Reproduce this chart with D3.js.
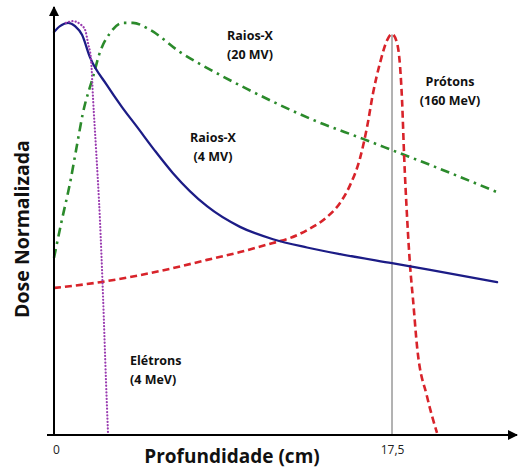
<!DOCTYPE html>
<html lang="pt">
<head>
<meta charset="UTF-8">
<title>Dose x Profundidade</title>
<script src="https://cdn.jsdelivr.net/npm/d3@7"></script>
<style>
    body { margin: 0; background: #fff; }
    svg { display: block; }
    .lbl { font-family: "Open Sans", sans-serif; font-weight: 700; fill: #111; }
</style>
</head>
<body>
<div id="chart"></div>
<script>
    // profundidade (cm) / dose normalizada (%)
    const xRaios4 = [0, 0.31, 0.73, 1.09, 1.45, 1.86, 2.74, 3.52, 4.3, 5.23, 6.16, 7.92, 9.63, 11.34, 13.1, 14.81, 17.5, 19.47, 22.94]
    const yRaios4 = [97.6, 99.0, 99.8, 99.0, 96.9, 91.5, 84.7, 79.4, 74.6, 68.8, 63.4, 55.4, 50.4, 47.4, 45.4, 43.8, 41.6, 40.0, 37.0]

    const xEletrons = [0.62, 0.98, 1.35, 1.61, 1.76, 1.92, 2.02, 2.18, 2.38, 2.54, 2.69, 2.8]
    const yEletrons = [99.8, 100.2, 99.5, 98.1, 94.9, 90.8, 81.6, 69.0, 52.0, 33.4, 13.3, 0]

    const xRaios20 = [0, 0.41, 0.83, 1.19, 1.5, 2.02, 2.38, 2.9, 3.57, 4.09, 4.97, 6.53, 8.23, 9.99, 11.7, 13.41, 16.0, 17.76, 19.47, 22.94]
    const yRaios20 = [42.9, 52.1, 61.0, 70.2, 78.0, 86.7, 92.7, 97.3, 99.8, 99.8, 98.1, 92.7, 88.1, 83.8, 79.9, 76.3, 71.7, 68.5, 65.4, 58.8]

    const xProtons = [0, 2.38, 4.45, 6.16, 7.92, 9.63, 11.34, 12.22, 13.1, 14.14, 14.81, 15.33, 15.85, 16.21, 16.52, 16.88, 17.25, 17.5, 17.76, 17.92, 18.02, 18.13, 18.28, 18.44, 18.59, 18.8, 19.32, 19.83]
    const yProtons = [35.6, 37.0, 38.7, 40.4, 42.4, 44.3, 46.5, 47.7, 49.6, 52.8, 56.2, 60.5, 67.1, 74.6, 82.8, 90.1, 95.6, 97.1, 94.9, 89.1, 81.1, 67.3, 52.8, 40.7, 32.7, 21.3, 9.2, 0.5]

    const tickValues = [0, 17.5]
    const tickLabels = ["0", "17,5"]

    const width = 519
    const height = 470

    const x = d3.scaleLinear().domain([0, 17.5]).range([54, 392])
    const y = d3.scaleLinear().domain([0, 100]).range([435, 22])

    const svg = d3.select("#chart").append("svg")
        .attr("width", width)
        .attr("height", height)

    svg.append("defs").append("marker")
        .attr("id", "arrow")
        .attr("viewBox", "0 0 10 10")
        .attr("refX", 9)
        .attr("refY", 5)
        .attr("markerWidth", 10)
        .attr("markerHeight", 10)
        .attr("markerUnits", "userSpaceOnUse")
        .attr("orient", "auto")
        .append("path")
        .attr("d", "M0,0 L10,5 L0,10 z")
        .attr("fill", "#000")

    // linha vertical em 17,5 cm
    svg.append("line")
        .attr("x1", x(17.5)).attr("x2", x(17.5))
        .attr("y1", y(97)).attr("y2", y(0))
        .attr("stroke", "#666")
        .attr("stroke-width", 1)

    const line = d3.line()
        .x((d) => x(d[0]))
        .y((d) => y(d[1]))
        .curve(d3.curveMonotoneX)

    const series = [
        { xs: xRaios20, ys: yRaios20, color: "#2b8a2b", width: 2.6, dash: "9,5,2.5,5", cap: "butt" },
        { xs: xProtons, ys: yProtons, color: "#d8232a", width: 2.6, dash: "7,4", cap: "butt" },
        { xs: xRaios4, ys: yRaios4, color: "#1c1c86", width: 2.3, dash: null, cap: "round" },
        { xs: xEletrons, ys: yEletrons, color: "#9a3cb0", width: 2.2, dash: "0.1,3.2", cap: "round" }
    ]

    series.forEach((s) => {
        svg.append("path")
            .datum(s.xs.map((v, i) => [v, s.ys[i]]))
            .attr("d", line)
            .attr("fill", "none")
            .attr("stroke", s.color)
            .attr("stroke-width", s.width)
            .attr("stroke-dasharray", s.dash)
            .attr("stroke-linecap", s.cap)
    })

    // eixos
    svg.append("line")
        .attr("x1", 47).attr("x2", 517)
        .attr("y1", y(0)).attr("y2", y(0))
        .attr("stroke", "#000")
        .attr("stroke-width", 2)
        .attr("marker-end", "url(#arrow)")

    svg.append("line")
        .attr("x1", x(0)).attr("x2", x(0))
        .attr("y1", y(0) + 1).attr("y2", 7)
        .attr("stroke", "#000")
        .attr("stroke-width", 2)
        .attr("marker-end", "url(#arrow)")

    const xAxis = d3.axisBottom(x)
        .tickValues(tickValues)
        .tickFormat((d, i) => tickLabels[i])
        .tickSize(0)
        .tickPadding(10)

    const gx = svg.append("g")
        .attr("transform", `translate(0, ${y(0)})`)
        .call(xAxis)
    gx.select(".domain").remove()
    gx.selectAll("text")
        .attr("font-family", "'Open Sans', sans-serif")
        .attr("font-size", 12)
        .attr("fill", "#222")
    gx.selectAll(".tick").filter((d) => d === 0).select("text").attr("dx", 2)

    svg.append("text")
        .attr("class", "lbl")
        .attr("x", 232).attr("y", 463)
        .attr("text-anchor", "middle")
        .attr("font-size", 19)
        .text("Profundidade (cm)")

    svg.append("text")
        .attr("class", "lbl")
        .attr("transform", "translate(29, 229) rotate(-90)")
        .attr("text-anchor", "middle")
        .attr("font-size", 19.5)
        .text("Dose Normalizada")

    const labels = [
        { lines: ["Raios-X", "(20 MV)"], x: 250, y: 40, anchor: "middle" },
        { lines: ["Raios-X", "(4 MV)"], x: 213, y: 142, anchor: "middle" },
        { lines: ["Prótons", "(160 MeV)"], x: 450, y: 86, anchor: "middle" },
        { lines: ["Elétrons", "(4 MeV)"], x: 130, y: 365, anchor: "start" }
    ]

    labels.forEach((l) => {
        const t = svg.append("text")
            .attr("class", "lbl")
            .attr("font-size", 12.5)
            .attr("text-anchor", l.anchor)
        l.lines.forEach((s, i) => {
            t.append("tspan")
                .attr("x", l.x)
                .attr("y", l.y + i * 19)
                .text(s)
        })
    })
</script>
</body>
</html>
